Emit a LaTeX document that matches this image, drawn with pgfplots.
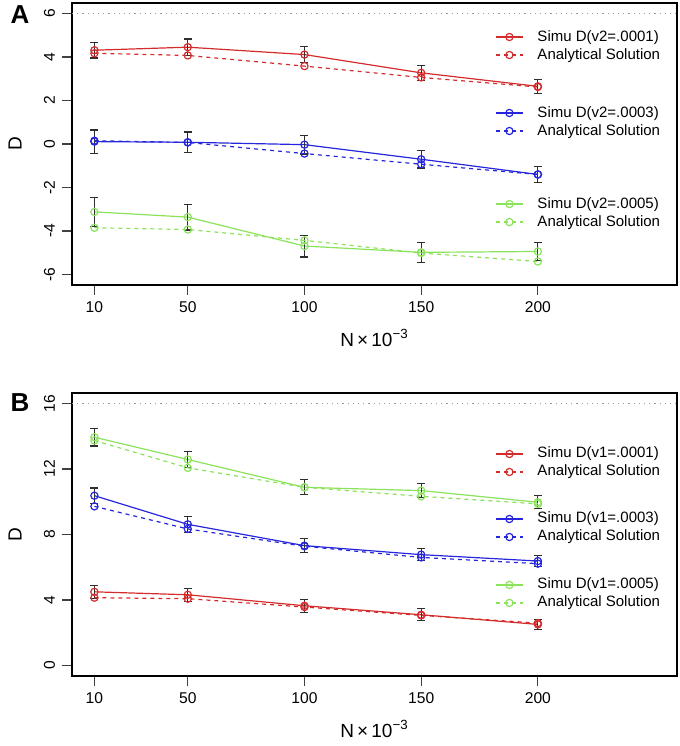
\documentclass[border=0pt]{standalone}
\usepackage{fontspec}
\setmainfont{Liberation Sans}
\usepackage{pgfplots}
\pgfplotsset{compat=1.18}

\definecolor{rRed}  {HTML}{D42C2C}
\definecolor{rBlue} {HTML}{2626DC}
\definecolor{rGreen}{HTML}{8BE35C}
\definecolor{rBar}  {HTML}{2E2E2E}

\pgfplotsset{
  panel/.style={scale only axis, width=302.5pt, height=141pt,
    xmin=0.4, xmax=259.6, anchor=south west},
  frame/.style={axis line style={black,line width=0.6pt},
    tick align=outside, tick pos=left, major tick length=5pt,
    tick style={black!75,line width=0.6pt},
    xtick={10,50,100,150,200},
    ticklabel style={font=\fontsize{7.8}{9}\selectfont},
    yticklabel style={rotate=90,anchor=south},
    /pgf/number format/assume math mode=true,
    xlabel={N\,×\,10\textsuperscript{−3}},
    every axis x label/.style={at={(axis description cs:0.5,0)},anchor=center,
      yshift=-26.5pt,font=\fontsize{9.5}{11}\selectfont}},
  leg/.style={legend cell align=left,
    legend style={at={(0.699,#1)},anchor=west,draw=none,fill=none,
      inner sep=0pt,font=\fontsize{7.5}{9}\selectfont,row sep=2pt,column sep=7pt,
      nodes={inner sep=0pt,text height=5.5pt,text depth=1.5pt}},
    legend image code/.code={\draw[mark repeat=2,mark phase=2]
      plot coordinates {(0pt,0pt)(6.75pt,0pt)(13.5pt,0pt)};}},
  ana/.style={color=#1,line width=0.6pt,dash pattern=on 2pt off 2pt,mark=o,mark size=1.8pt,
    mark options={solid}},
  simu/.style={color=#1,line width=0.6pt,mark=o,mark size=1.8pt,
    error bars/.cd,y dir=both,y explicit,
    error bar style={rBar,line width=0.6pt,solid},
    error mark options={rotate=90,mark size=2pt,rBar,line width=0.6pt}},
}

\begin{document}
\begin{tikzpicture}
\useasboundingbox (0,0) rectangle (340pt,373pt);

% ---------------- panel A ----------------
\begin{axis}[panel,frame,at={(36pt,230.5pt)},ymin=-6.48,ymax=6.48,
  ytick={-6,-4,-2,0,2,4,6},leg=0.8475]
\addplot[gray!80,dotted,line width=0.6pt,forget plot] coordinates {(0.4,6)(259.6,6)};
\addplot[simu=rRed] coordinates {
  (10,4.31) +- (0,0.36) (50,4.45) +- (0,0.38) (100,4.11) +- (0,0.37)
  (150,3.27) +- (0,0.34) (200,2.65) +- (0,0.33)};
\addlegendentry{Simu D(v2=.0001)}
\addplot[ana=rRed] coordinates {(10,4.17)(50,4.07)(100,3.58)(150,3.06)(200,2.62)};
\addlegendentry{Analytical Solution}
\end{axis}
\begin{axis}[panel,hide axis,at={(36pt,230.5pt)},ymin=-6.48,ymax=6.48,leg=0.578]
\addplot[simu=rBlue] coordinates {
  (10,0.11) +- (0,0.53) (50,0.08) +- (0,0.47) (100,-0.03) +- (0,0.43)
  (150,-0.70) +- (0,0.40) (200,-1.40) +- (0,0.37)};
\addlegendentry{Simu D(v2=.0003)}
\addplot[ana=rBlue] coordinates {(10,0.15)(50,0.07)(100,-0.44)(150,-0.93)(200,-1.40)};
\addlegendentry{Analytical Solution}
\end{axis}
\begin{axis}[panel,hide axis,at={(36pt,230.5pt)},ymin=-6.48,ymax=6.48,leg=0.255]
\addplot[simu=rGreen] coordinates {
  (10,-3.12) +- (0,0.67) (50,-3.36) +- (0,0.59) (100,-4.69) +- (0,0.50)
  (150,-4.98) +- (0,0.45) (200,-4.94) +- (0,0.41)};
\addlegendentry{Simu D(v2=.0005)}
\addplot[ana=rGreen] coordinates {(10,-3.85)(50,-3.93)(100,-4.43)(150,-5.01)(200,-5.40)};
\addlegendentry{Analytical Solution}
\end{axis}

% ---------------- panel B ----------------
\begin{axis}[panel,frame,height=141.5pt,at={(36pt,35pt)},ymin=-0.64,ymax=16.64,
  ytick={0,4,8,12,16},leg=0.7527]
\addplot[gray!80,dotted,line width=0.6pt,forget plot] coordinates {(0.4,16)(259.6,16)};
\addplot[simu=rRed] coordinates {
  (10,4.50) +- (0,0.39) (50,4.32) +- (0,0.39) (100,3.65) +- (0,0.39)
  (150,3.10) +- (0,0.37) (200,2.51) +- (0,0.32)};
\addlegendentry{Simu D(v1=.0001)}
\addplot[ana=rRed] coordinates {(10,4.14)(50,4.08)(100,3.57)(150,3.06)(200,2.59)};
\addlegendentry{Analytical Solution}
\end{axis}
\begin{axis}[panel,hide axis,height=141.5pt,at={(36pt,35pt)},ymin=-0.64,ymax=16.64,leg=0.523]
\addplot[simu=rBlue] coordinates {
  (10,10.37) +- (0,0.47) (50,8.62) +- (0,0.48) (100,7.32) +- (0,0.43)
  (150,6.77) +- (0,0.38) (200,6.38) +- (0,0.35)};
\addlegendentry{Simu D(v1=.0003)}
\addplot[ana=rBlue] coordinates {(10,9.72)(50,8.34)(100,7.28)(150,6.60)(200,6.22)};
\addlegendentry{Analytical Solution}
\end{axis}
\begin{axis}[panel,hide axis,height=141.5pt,at={(36pt,35pt)},ymin=-0.64,ymax=16.64,leg=0.29]
\addplot[simu=rGreen] coordinates {
  (10,13.94) +- (0,0.54) (50,12.58) +- (0,0.49) (100,10.88) +- (0,0.46)
  (150,10.68) +- (0,0.42) (200,9.97) +- (0,0.39)};
\addlegendentry{Simu D(v1=.0005)}
\addplot[ana=rGreen] coordinates {(10,13.74)(50,12.07)(100,10.88)(150,10.33)(200,9.87)};
\addlegendentry{Analytical Solution}
\end{axis}

% panel letters and y labels
\node[font=\bfseries\fontsize{13}{13}\selectfont] at (10pt,365.5pt) {A};
\node[font=\bfseries\fontsize{13}{13}\selectfont] at (10pt,171.5pt) {B};
\node[rotate=90,font=\fontsize{9.5}{11}\selectfont] at (7.5pt,301pt) {D};
\node[rotate=90,font=\fontsize{9.5}{11}\selectfont] at (7.5pt,105.75pt) {D};
\end{tikzpicture}
\end{document}
